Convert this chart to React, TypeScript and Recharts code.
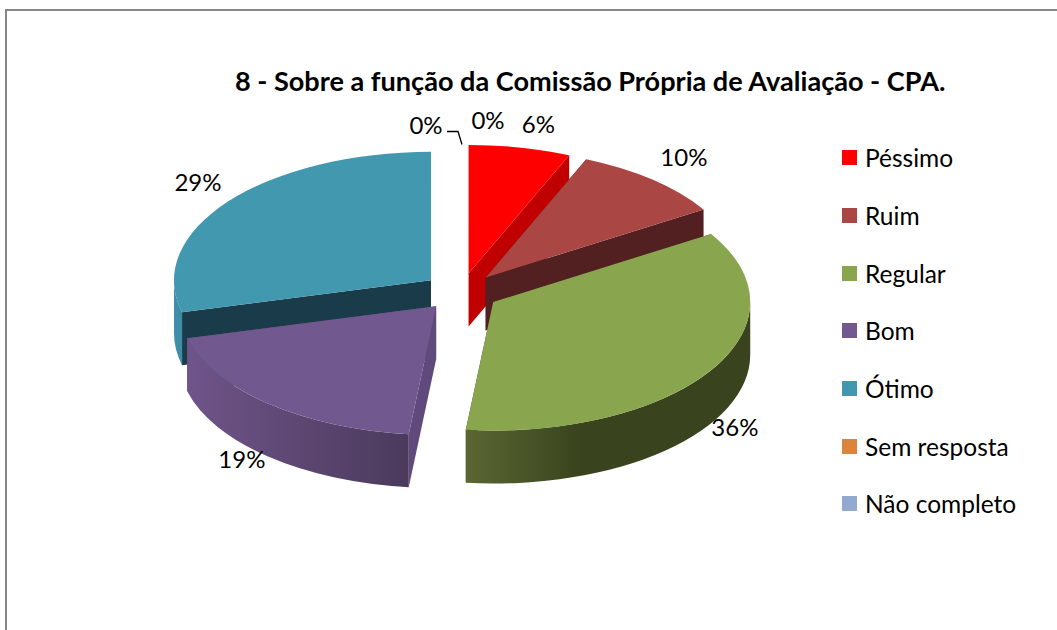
import { PieChart, Pie, Legend } from "recharts";

const categories = ["Péssimo", "Ruim", "Regular", "Bom", "Ótimo", "Sem resposta", "Não completo"];
const shares = [6.4, 9.7, 35.6, 19.3, 29.0, 0, 0];
const data = categories.map((name, i) => ({ name, value: shares[i] }));

const topColors = ["#ff0000", "#aa4643", "#89a54e", "#71588f", "#4198af", "#db843d", "#93a9cf"];
const cutColors = ["#c00000", "#522020", "#39441e", "#604a7b", "#1a3b49", "#db843d", "#93a9cf"];
// rim wall shading, left colour, right colour, and where the right colour is reached
const wallStops: [string, string, string][] = [
  ["#c00000", "#c00000", "100%"],
  ["#522020", "#522020", "100%"],
  ["#5a6732", "#39441e", "40%"],
  ["#6f5489", "#4b3a5c", "100%"],
  ["#4190aa", "#3f8ba3", "100%"],
  ["#db843d", "#db843d", "100%"],
  ["#93a9cf", "#93a9cf", "100%"],
];

// label placement, relative to the slice's point on the rim
const labelNudge = [
  [26, -43],
  [56, -38],
  [56, 66],
  [-51, 69],
  [-60, -32],
  [-35, -39],
  [27, -44],
];

const CX = 461;
const CY = 292;
const RADIUS = 257;
const SQUASH = 0.5;
const DEPTH = 53;
const EXPLODE_X = 38;
const EXPLODE_Y = 19;
const FONT = "Lato, 'Open Sans', sans-serif";

const rad = (d: number) => (d * Math.PI) / 180;

function Slice3D(props: any) {
  const { cx, cy, outerRadius, startAngle, endAngle, index } = props;
  const a0 = 90 - startAngle;
  const a1 = 90 - endAngle;
  if (a1 - a0 < 0.01) return null;

  const rx = outerRadius;
  const ry = outerRadius * SQUASH;
  const mid = (a0 + a1) / 2;
  const ax = cx + EXPLODE_X * Math.sin(rad(mid));
  const ay = cy - EXPLODE_Y * Math.cos(rad(mid));
  const pt = (a: number): [number, number] => [ax + rx * Math.sin(rad(a)), ay - ry * Math.cos(rad(a))];
  const large = a1 - a0 > 180 ? 1 : 0;

  const [x0, y0] = pt(a0);
  const [x1, y1] = pt(a1);
  const top = `M${ax},${ay} L${x0},${y0} A${rx},${ry} 0 ${large} 1 ${x1},${y1} Z`;
  const cut0 = `M${ax},${ay} L${x0},${y0} V${y0 + DEPTH} L${ax},${ay + DEPTH} Z`;
  const cut1 = `M${ax},${ay} L${x1},${y1} V${y1 + DEPTH} L${ax},${ay + DEPTH} Z`;

  // only the front half of the rim shows a wall
  const w0 = Math.max(a0, 90);
  const w1 = Math.min(a1, 270);
  let wall = null;
  if (w1 > w0) {
    const [wx0, wy0] = pt(w0);
    const [wx1, wy1] = pt(w1);
    const d = `M${wx0},${wy0} A${rx},${ry} 0 0 1 ${wx1},${wy1} V${wy1 + DEPTH} A${rx},${ry} 0 0 0 ${wx0},${wy0 + DEPTH} Z`;
    const id = `wall-${index}`;
    const [left, right, at] = wallStops[index];
    wall = (
      <>
        <defs>
          <linearGradient id={id} x1="0" y1="0" x2="1" y2="0">
            <stop offset="0%" stopColor={left} />
            <stop offset={at} stopColor={right} />
          </linearGradient>
        </defs>
        <path d={d} fill={`url(#${id})`} />
      </>
    );
  }

  return (
    <g>
      <path d={cut0} fill={cutColors[index]} />
      <path d={cut1} fill={cutColors[index]} />
      {wall}
      <path d={top} fill={topColors[index]} />
    </g>
  );
}

// Ótimo sits behind Bom, so it goes in a pie of its own underneath
const BackSlice = (props: any) => (props.index === 4 ? <Slice3D {...props} /> : null);
const FrontSlice = (props: any) => (props.index === 4 ? null : <Slice3D {...props} />);

function PercentLabel(props: any) {
  const { cx, cy, outerRadius, midAngle, value, index } = props;
  const m = 90 - midAngle;
  const x = cx + outerRadius * Math.sin(rad(m)) + labelNudge[index][0];
  const y = cy - outerRadius * SQUASH * Math.cos(rad(m)) + labelNudge[index][1];
  return (
    <g>
      {index === 5 && (
        <polyline
          points={`${x + 21},${y + 7} ${x + 32},${y + 7} ${x + 36},${y + 20}`}
          fill="none"
          stroke="#000"
          strokeWidth={1.3}
        />
      )}
      <text x={x} y={y} textAnchor="middle" dominantBaseline="central" fontFamily={FONT} fontSize={24} fill="#000">
        {`${Math.round(value)}%`}
      </text>
    </g>
  );
}

function LegendList({ payload }: any) {
  // the two pies both report their sectors, keep one of each
  const names = categories.filter((c) => (payload || []).some((p: any) => p.value === c));
  return (
    <div style={{ fontFamily: FONT, fontSize: 24.5, color: "#000" }}>
      {names.map((name) => (
        <div key={name} style={{ display: "flex", alignItems: "center", height: 57.7 }}>
          <span style={{ width: 15, height: 15, background: topColors[categories.indexOf(name)], marginRight: 8 }} />
          <span>{name}</span>
        </div>
      ))}
    </div>
  );
}

export default function App() {
  return (
    <div style={{ position: "absolute", left: 0, top: 0, width: 1057, height: 630, overflow: "hidden", background: "#fff" }}>
      <div
        style={{
          position: "absolute",
          left: 5,
          top: 9,
          width: 1100,
          height: 700,
          border: "2px solid #868686",
        }}
      />
      <div
        style={{
          position: "absolute",
          left: 235,
          top: 64,
          fontFamily: FONT,
          fontWeight: 700,
          fontSize: 27.1,
          whiteSpace: "nowrap",
          color: "#000",
        }}
      >
        8 - Sobre a função da Comissão Própria de Avaliação - CPA.
      </div>
      <div style={{ position: "absolute", left: 0, top: 0 }}>
        <PieChart width={1057} height={630} margin={{ top: 0, right: 0, bottom: 0, left: 0 }}>
          <Pie
            data={data}
            dataKey="value"
            nameKey="name"
            cx={CX}
            cy={CY}
            outerRadius={RADIUS}
            startAngle={90}
            endAngle={-270}
            legendType="none"
            shape={BackSlice}
            isAnimationActive={false}
          />
          <Pie
            data={data}
            dataKey="value"
            nameKey="name"
            cx={CX}
            cy={CY}
            outerRadius={RADIUS}
            startAngle={90}
            endAngle={-270}
            shape={FrontSlice}
            label={PercentLabel}
            labelLine={false}
            isAnimationActive={false}
          />
          <Legend
            layout="vertical"
            align="right"
            verticalAlign="top"
            itemSorter={null}
            content={LegendList}
            wrapperStyle={{ left: 842, top: 129, width: 210 }}
          />
        </PieChart>
      </div>
    </div>
  );
}
